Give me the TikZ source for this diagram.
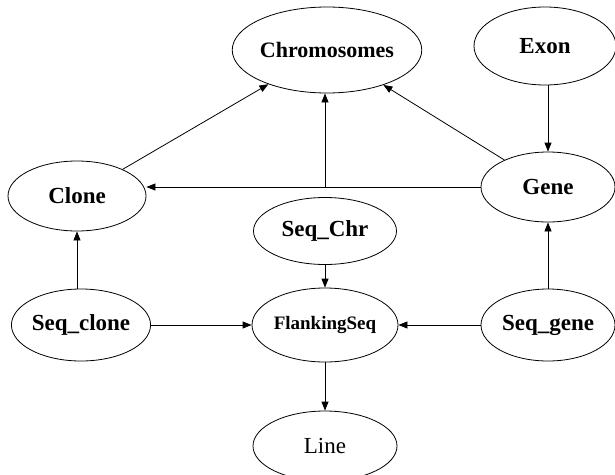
\documentclass[tikz,border=0pt]{standalone}
\usepackage{fontspec}
\setmainfont{Liberation Serif}
\usetikzlibrary{shapes.geometric,arrows.meta}
\begin{document}
\begin{tikzpicture}[x=1pt,y=-1pt,
    ent/.style={ellipse, draw, line width=0.8pt, inner sep=0pt, font=\fontsize{23}{26}\selectfont\bfseries},
    arr/.style={line width=0.8pt, -{Triangle[length=9pt,width=7pt]}}]
    \useasboundingbox (0,0) rectangle (615,474);
    \node[ent, minimum width=150, minimum height=86, font=\fontsize{22}{26}\selectfont\bfseries] (chrom) at (327,50) {Chromosomes};
    \node[ent, minimum width=142, minimum height=78] (exon) at (545,46) {Exon};
    \node[ent, minimum width=138, minimum height=70] (clone) at (77,196) {Clone};
    \node[ent, minimum width=134, minimum height=70] (gene) at (548,187) {Gene};
    \node[ent, minimum width=143, minimum height=67] (seqchr) at (325,231) {Seq\_Chr};
    \node[ent, minimum width=129, minimum height=72] (seqclone) at (81,325) {Seq\_clone};
    \node[ent, minimum width=146, minimum height=74, font=\fontsize{19}{22}\selectfont\bfseries] (flank) at (325,325) {FlankingSeq};
    \node[ent, minimum width=134, minimum height=72] (seqgene) at (548,325) {Seq\_gene};
    \node[ent, minimum width=144, minimum height=70, font=\fontsize{23}{26}\selectfont] (line) at (325,446) {Line};
    \coordinate (junc) at (seqchr |- gene.west);
    \draw[arr] (clone) -- (chrom);
    \draw[arr] (gene) -- (chrom);
    \draw[arr] (gene.west) -- (gene.west -| clone.east);
    \draw[arr] (junc) -- (junc |- chrom.south);
    \draw[arr] (exon.south -| gene.north) -- (gene.north);
    \draw[arr] (clone.south |- seqclone.north) -- (clone.south);
    \draw[arr] (seqclone.east) -- (flank.west);
    \draw[arr] (seqgene.west) -- (flank.east);
    \draw[arr] (seqchr.south) -- (flank.north);
    \draw[arr] (seqgene.north) -- (gene.south);
    \draw[arr] (flank.south) -- (line.north);
\end{tikzpicture}
\end{document}
